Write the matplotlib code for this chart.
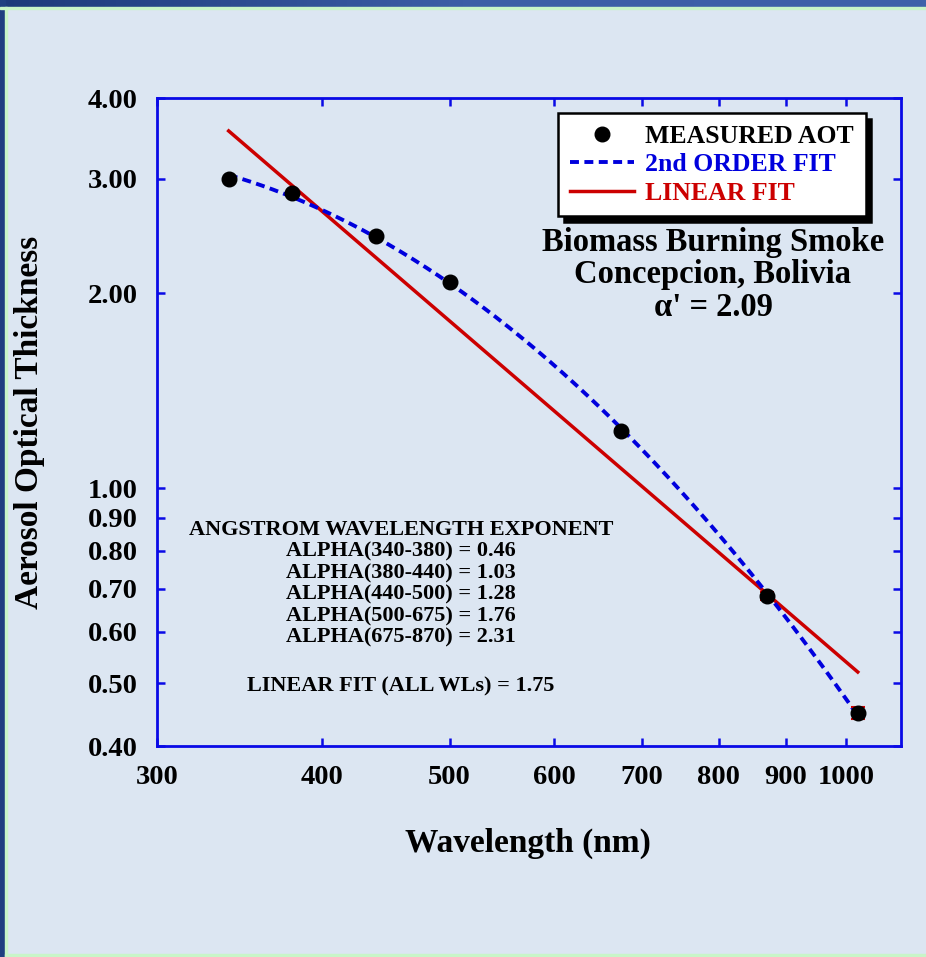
import numpy as np
import matplotlib
matplotlib.use("Agg")
import matplotlib.pyplot as plt
from matplotlib.patches import Rectangle
from matplotlib.colors import LinearSegmentedColormap
from matplotlib.ticker import FixedLocator, NullFormatter

# measured AOT spectrum
wavelengths = [340, 380, 440, 500, 675, 870, 1020]
aot = [3.00, 2.85, 2.45, 2.08, 1.226, 0.682, 0.45]
aot_err = [0.01, 0.01, 0.01, 0.01, 0.01, 0.01, 0.01]

alpha_linear = 1.75
alpha_prime = 2.09
alpha_pairs = ["340-380", "380-440", "440-500", "500-675", "675-870"]
alpha_values = [0.46, 1.03, 1.28, 1.76, 2.31]

x_ticks = [300, 400, 500, 600, 700, 800, 900, 1000]
y_ticks = [0.40, 0.50, 0.60, 0.70, 0.80, 0.90, 1.00, 2.00, 3.00, 4.00]

W, H = 926, 957
bg = "#dce6f2"
axis_blue = "#0a0ae6"
red = "#cc0000"
blue = "#0000dd"

plt.rcParams["font.family"] = ["Liberation Serif", "DejaVu Serif"]
plt.rcParams["font.weight"] = "bold"

fig = plt.figure(figsize=(W / 100, H / 100), dpi=100, facecolor=bg)

# slide-style frame: gradient bar on top, dark strip at left
bar = fig.add_axes([0, 1 - 7 / H, 1, 7 / H])
grad = LinearSegmentedColormap.from_list("bar", ["#1c3a7a", "#3c5ea6", "#3f62aa"])
bar.imshow(np.linspace(0, 1, 256)[None, :], aspect="auto", cmap=grad)
bar.axis("off")
fig.patches.append(Rectangle((0, 0), 5 / W, 1, transform=fig.transFigure,
                             color="#1f3f80", zorder=0))
fig.patches.append(Rectangle((5 / W, 0), 1.5 / W, 1 - 7 / H, transform=fig.transFigure,
                             color="#c8f5c8", zorder=0))
fig.patches.append(Rectangle((0, 1 - 8.5 / H), 1, 1.5 / H, transform=fig.transFigure,
                             color="#c8f5c8", zorder=0))
fig.patches.append(Rectangle((5 / W, 0), 1, 3 / H, transform=fig.transFigure,
                             color="#c8f5c8", zorder=0))

x0, x1, y0, y1 = 157, 901, 98, 746
ax = fig.add_axes([x0 / W, 1 - y1 / H, (x1 - x0) / W, (y1 - y0) / H])
ax.set_facecolor(bg)
ax.set_xscale("log")
ax.set_yscale("log")
ax.set_xlim(300, 1100)
ax.set_ylim(0.40, 4.00)

lam = np.array(wavelengths, dtype=float)
tau = np.array(aot)
lx, ly = np.log(lam), np.log(tau)
grid = np.linspace(lam[0], lam[-1], 200)

# second order fit in log-log space
c2 = np.polyfit(lx, ly, 2)
fit2, = ax.plot(grid, np.exp(np.polyval(c2, np.log(grid))), color=blue, lw=2.8,
                linestyle=(0, (2.3, 1.4)), zorder=3)

# linear fit with the Angstrom exponent over all wavelengths
b = np.mean(ly + alpha_linear * lx)
fit1, = ax.plot(grid, np.exp(b - alpha_linear * np.log(grid)), color=red, lw=2.5,
                zorder=2)

ax.errorbar(lam, tau, yerr=aot_err, fmt="none", ecolor=red, elinewidth=1.5,
            capsize=5, capthick=1.5, zorder=4)
pts, = ax.plot(lam, tau, "o", color="black", ms=10.5, zorder=5)

for s in ax.spines.values():
    s.set_color(axis_blue)
    s.set_linewidth(2)

ax.xaxis.set_major_locator(FixedLocator(x_ticks))
ax.xaxis.set_minor_locator(FixedLocator([1000]))
ax.set_xticklabels([str(t) for t in x_ticks])
ax.yaxis.set_major_locator(FixedLocator(y_ticks))
ax.yaxis.set_minor_locator(FixedLocator([1.0]))
ax.set_yticklabels([f"{t:.2f}" for t in y_ticks])
ax.xaxis.set_minor_formatter(NullFormatter())
ax.yaxis.set_minor_formatter(NullFormatter())
ax.tick_params(which="both", direction="in", color=axis_blue, width=1.8,
               top=True, right=True, labelsize=20.5)
ax.tick_params(which="major", length=6)
ax.tick_params(which="minor", length=12)
ax.tick_params(axis="x", pad=14)
ax.tick_params(axis="y", pad=14)

fig.text(528 / W, 1 - 843 / H, "Wavelength (nm)", fontsize=24,
         fontweight="bold", ha="center", va="center")
fig.text(30 / W, 1 - 422 / H, "Aerosol Optical Thickness", rotation=90,
         fontsize=24, fontweight="bold", ha="center", va="center")

leg = ax.legend([pts, fit2, fit1], ["MEASURED AOT", "2nd ORDER FIT", "LINEAR FIT"],
                loc="upper left", bbox_to_anchor=(558 / W, 1 - 113 / H),
                bbox_transform=fig.transFigure, fontsize=18.5, handlelength=2.5,
                handletextpad=0.45, labelspacing=0.22, borderpad=0.45,
                borderaxespad=0, fancybox=False, framealpha=1,
                edgecolor="black", labelcolor=["black", blue, red],
                shadow={"ox": 4, "oy": -4, "color": "black", "alpha": 1})
leg.get_frame().set_linewidth(1.8)


def px(x, y):
    return (x - x0) / (x1 - x0), (y1 - y) / (y1 - y0)


for i, line in enumerate(["Biomass Burning Smoke", "Concepcion, Bolivia",
                          f"\u03b1' = {alpha_prime:.2f}"]):
    ax.text(*px(713, 243 + 32 * i), line, transform=ax.transAxes, fontsize=23.5,
            fontweight="bold", ha="center", va="center")

ax.text(*px(401, 530), "ANGSTROM WAVELENGTH EXPONENT", transform=ax.transAxes,
        fontsize=16, fontweight="bold", ha="center", va="center")
for i, (pair, val) in enumerate(zip(alpha_pairs, alpha_values)):
    ax.text(*px(401, 551.5 + 21.5 * i), f"ALPHA({pair}) = {val:.2f}",
            transform=ax.transAxes, fontsize=16, fontweight="bold",
            ha="center", va="center")
ax.text(*px(401, 686), f"LINEAR FIT (ALL WLs) = {alpha_linear:.2f}",
        transform=ax.transAxes, fontsize=16, fontweight="bold",
        ha="center", va="center")

fig.savefig("out.png", dpi=100, facecolor=bg)
